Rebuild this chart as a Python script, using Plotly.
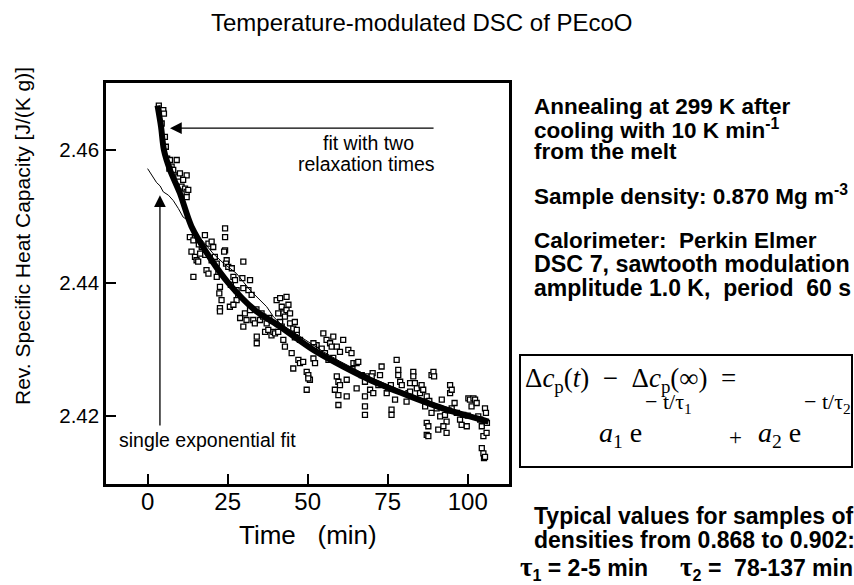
import plotly.graph_objects as go

# ---------------- data ----------------
time_min = [
    3.5, 4.9, 5.1, 4.4, 5.4, 5.7, 6.1, 7.0, 9.1, 7.5, 8.0, 6.8, 8.5, 9.6, 10.1, 12.2, 11.1, 10.6, 11.7, 12.2, 12.7, 12.2,
    13.2, 14.3, 13.7, 14.8, 15.3, 16.4, 16.9, 17.9, 19.0, 20.0, 20.5, 15.8, 14.3, 18.4, 19.0, 20.0, 21.0, 21.6, 22.1,
    21.6, 22.6, 22.4, 23.1, 22.6, 22.6, 24.2, 24.2, 24.2, 23.9, 24.7, 24.5, 25.2, 26.3, 26.8, 27.3, 27.8, 28.3, 27.8,
    25.7, 26.8, 29.9, 29.6, 32.0, 29.9, 31.5, 32.5, 30.4, 28.9, 29.9, 30.9, 32.0,
    33.0, 33.5, 34.1, 34.1, 35.1, 35.6, 36.1, 37.2, 36.7, 37.7, 38.7, 39.3, 39.8, 40.8, 40.3, 41.4, 41.9, 42.4, 42.9,
    43.4, 44.0, 43.4, 44.5, 40.8, 41.4, 41.9, 42.4, 42.9, 44.5, 45.5, 46.0, 46.6, 47.6, 46.6, 45.0, 45.5, 47.1, 47.6,
    48.6, 49.7, 50.2, 50.7, 49.7, 50.2, 51.8, 52.3, 52.8, 51.8, 53.3, 54.4, 54.9, 55.9, 55.4, 56.5,
    57.0, 57.5, 58.0, 59.1, 60.1, 61.1, 62.7, 63.7, 64.3, 65.3, 65.8, 59.1, 59.6, 60.1, 58.5, 59.6, 59.6, 62.2, 62.2,
    65.3, 66.9, 67.9, 68.4, 67.9, 67.9, 67.9, 69.5, 70.5, 70.3, 72.1, 73.1, 72.6, 74.7, 75.2, 76.2, 76.2, 77.3, 77.8,
    78.3, 78.3, 78.9, 79.4, 80.9, 81.5, 82.0,
    83.0, 83.0, 83.5, 84.1, 85.1, 85.6, 86.1, 86.7, 87.2, 88.7, 89.3, 89.5, 87.2, 87.7, 87.2, 87.7, 88.7, 90.3, 91.4,
    90.8, 91.9, 92.9, 93.4, 92.4, 93.4, 94.5, 94.5, 95.0, 95.0, 95.9, 96.6, 97.6, 98.1, 98.6, 99.7, 100.2, 100.7, 101.2,
    101.8, 102.3, 102.8, 103.3, 103.9, 104.4, 104.9, 105.4, 105.7, 105.9, 104.4, 104.9, 105.1, 105.4,
    16.0, 18.0, 26.0, 34.0, 38.0, 46.0, 52.0, 58.0, 64.0, 70.0, 76.0, 82.0, 88.0, 94.0, 100.0, 106.0,
]
cp_rev = [
    2.4667, 2.4660, 2.4655, 2.4640, 2.4620, 2.4605, 2.4587, 2.4585, 2.4585, 2.4575, 2.4570, 2.4572, 2.4562, 2.4560,
    2.4565, 2.4562, 2.4555, 2.4545, 2.4542, 2.4537, 2.4540, 2.4529,
    2.4469, 2.4464, 2.4447, 2.4439, 2.4434, 2.4444, 2.4454, 2.4472, 2.4459, 2.4462, 2.4454, 2.4432, 2.4409, 2.4419,
    2.4414, 2.4434, 2.4439, 2.4429, 2.4414, 2.4409, 2.4394, 2.4384, 2.4374, 2.4362, 2.4357, 2.4482, 2.4469, 2.4449,
    2.4447, 2.4434, 2.4429, 2.4424, 2.4422, 2.4409, 2.4404, 2.4389, 2.4379, 2.4374, 2.4364, 2.4367, 2.4432, 2.4407,
    2.4404, 2.4392, 2.4389, 2.4382, 2.4354, 2.4347, 2.4334, 2.4344, 2.4359,
    2.4344, 2.4339, 2.4319, 2.4309, 2.4344, 2.4354, 2.4349, 2.4339, 2.4326, 2.4329, 2.4321, 2.4326, 2.4324, 2.4326,
    2.4374, 2.4377, 2.4364, 2.4354, 2.4349, 2.4379, 2.4367, 2.4359, 2.4354, 2.4354, 2.4341, 2.4334, 2.4314, 2.4304,
    2.4339, 2.4331, 2.4341, 2.4324, 2.4314, 2.4329, 2.4294, 2.4271, 2.4284, 2.4279, 2.4281, 2.4266, 2.4261, 2.4254,
    2.4239, 2.4256, 2.4286, 2.4279, 2.4306, 2.4309, 2.4299, 2.4301, 2.4324, 2.4314, 2.4294, 2.4284,
    2.4309, 2.4304, 2.4319, 2.4304, 2.4296, 2.4314, 2.4299, 2.4294, 2.4279, 2.4279, 2.4281, 2.4259, 2.4251, 2.4246,
    2.4239, 2.4231, 2.4216, 2.4229, 2.4254, 2.4241, 2.4261, 2.4251, 2.4259, 2.4229, 2.4214, 2.4201, 2.4239, 2.4234,
    2.4264, 2.4246, 2.4274, 2.4261, 2.4234, 2.4241, 2.4209, 2.4201, 2.4224, 2.4284, 2.4269, 2.4261, 2.4251, 2.4246,
    2.4221, 2.4234, 2.4249,
    2.4266, 2.4259, 2.4249, 2.4241, 2.4234, 2.4246, 2.4239, 2.4214, 2.4229, 2.4261, 2.4266, 2.4259, 2.4189, 2.4184,
    2.4171, 2.4169, 2.4204, 2.4211, 2.4199, 2.4179, 2.4224, 2.4201, 2.4191, 2.4184, 2.4174, 2.4246, 2.4234, 2.4239,
    2.4211, 2.4219, 2.4204, 2.4194, 2.4186, 2.4201, 2.4184, 2.4226, 2.4224, 2.4214, 2.4226, 2.4224, 2.4219, 2.4199,
    2.4194, 2.4184, 2.4169, 2.4211, 2.4204, 2.4174, 2.4151, 2.4143, 2.4136, 2.4138,
    2.4458, 2.4442, 2.4397, 2.4360, 2.4347, 2.4318, 2.4303, 2.4287, 2.4270, 2.4259, 2.4246, 2.4236, 2.4222, 2.4208,
    2.4200, 2.4189,
]

fit2_t = [3.1, 4.2, 5.1, 7.0, 10.1, 13.7, 20.0, 25.2, 33.5, 41.4, 51.8, 61.1, 71.6, 82.0, 93.4, 106.5]
fit2_cp = [2.4667, 2.4635, 2.4600, 2.4570, 2.4535, 2.4485, 2.4434, 2.4400, 2.4359, 2.4334, 2.4299, 2.4274,
           2.4249, 2.4229, 2.4209, 2.4191]

fit1_t = [0.0, 1.25, 2.8, 3.9, 4.9, 6.5, 8.0, 9.6, 11.1, 12.7, 14.8, 17.4, 20.5, 23.6, 27.8, 32.0, 35.1, 37.2,
          39.3, 41.4, 44.5, 47.6, 50.7, 55.0, 60.0, 70.0, 80.0, 90.0, 100.0, 106.5]
fit1_cp = [2.4572, 2.4562, 2.4551, 2.4546, 2.4537, 2.4532, 2.4524, 2.4512, 2.4499, 2.4494, 2.4477, 2.4462,
           2.4444, 2.4430, 2.4414, 2.4389, 2.4374, 2.4364, 2.4349, 2.4339, 2.4329, 2.4319, 2.4309, 2.4296,
           2.4282, 2.4257, 2.4236, 2.4218, 2.4202, 2.4193]

x_ticks = [0, 25, 50, 75, 100]
y_ticks = [2.42, 2.44, 2.46]
x_range = [-13.0, 112.9]
y_range = [2.4097, 2.4701]

# ---------------- figure ----------------
W, H = 854, 585
ML, MR, MT, MB = 106, 345, 83, 101
PW, PH = W - ML - MR, H - MT - MB


def P(px, py):
    return (px - ML) / PW, (H - MB - py) / PH


SANS = "Liberation Sans, Arial, sans-serif"
SERIF = "Liberation Serif, Times New Roman, serif"

fig = go.Figure()
fig.add_trace(go.Scatter(
    x=time_min, y=cp_rev, mode="markers",
    marker=dict(symbol="square", size=5, color="white", line=dict(color="black", width=1.3)),
    showlegend=False, hoverinfo="skip"))
fig.add_trace(go.Scatter(
    x=fit2_t, y=fit2_cp, mode="lines", line=dict(color="black", width=6, shape="spline", smoothing=0.8),
    showlegend=False, hoverinfo="skip"))
fig.add_trace(go.Scatter(
    x=fit1_t, y=fit1_cp, mode="lines", line=dict(color="black", width=1),
    showlegend=False, hoverinfo="skip"))

axis_common = dict(showgrid=False, zeroline=False, showline=True, linecolor="black", linewidth=2.5,
                   mirror=True, ticks="inside", ticklen=10, tickwidth=1.5, tickcolor="black")
fig.update_xaxes(range=x_range, tickvals=x_ticks, ticktext=[str(v) for v in x_ticks],
                 tickfont=dict(family=SANS, size=24, color="black"), ticklabelstandoff=-6, **axis_common)
fig.update_yaxes(range=y_range, tickvals=y_ticks, ticktext=["%.2f" % v for v in y_ticks],
                 tickfont=dict(family=SANS, size=20.5, color="black"), **axis_common)

ann = []


def text(px, py, s, size, xanchor="left", bold=False, family=SANS, angle=0):
    x, y = P(px, py)
    if bold:
        s = "<b>" + s + "</b>"
    ann.append(dict(x=x, y=y, xref="paper", yref="paper", text=s, showarrow=False,
                    xanchor=xanchor, yanchor="middle", textangle=angle,
                    font=dict(family=family, size=size, color="black")))


NB = "\u00a0"

# title and axis titles
text(422, 22, "Temperature-modulated DSC of PEcoO", 24, xanchor="center")
text(22, 236, "Rev. Specific Heat Capacity [J/(K g)]", 21, xanchor="center", angle=-90)
text(308, 535, "Time" + NB * 3 + "(min)", 26, xanchor="center")

# in-plot labels
text(368, 143, "fit with two", 19.5, xanchor="center")
text(366, 164, "relaxation times", 19.5, xanchor="center")
text(117, 440, "single exponential fit", 19.5, xanchor="left")

# arrows (data coordinates)
ann.append(dict(x=7.0, y=2.4633, ax=89.8, ay=2.4633, xref="x", yref="y", axref="x", ayref="y",
                text="", showarrow=True, arrowhead=2, arrowsize=1.8, arrowwidth=1.3,
                arrowcolor="black", standoff=0))
ann.append(dict(x=3.85, y=2.4532, ax=3.85, ay=2.4183, xref="x", yref="y", axref="x", ayref="y",
                text="", showarrow=True, arrowhead=2, arrowsize=1.8, arrowwidth=1.3,
                arrowcolor="black", standoff=0))

# right-hand notes
R = 532
FS = 22.5
text(R, 106, "Annealing at 299 K after", FS, bold=True)
text(R, 129, "cooling with 10 K min<sup>-1</sup>", FS, bold=True)
text(R, 151, "from the melt", FS, bold=True)
text(R, 195, "Sample density: 0.870 Mg m<sup>-3</sup>", FS, bold=True)
text(R, 240, "Calorimeter:" + NB * 2 + "Perkin Elmer", FS, bold=True)
text(R, 264, "DSC 7, sawtooth modulation", 23.3, bold=True)
text(R, 288, "amplitude 1.0 K," + NB * 2 + "period" + NB * 2 + "60 s", 23, bold=True)

# equation box
text(523, 380, "\u0394<i>c</i><sub>p</sub>(<i>t</i>)" + NB * 2 + "\u2212" + NB * 2
     + "\u0394<i>c</i><sub>p</sub>(\u221e)" + NB * 2 + "=", 27, family=SERIF)
text(597, 434, "<i>a</i><sub>1</sub>" + NB + "e", 28, family=SERIF)
text(643, 403, "\u2212" + NB + "t/\u03c4<sub>1</sub>", 22, family=SERIF)
text(727, 437, "+", 23, family=SERIF)
text(756, 434, "<i>a</i><sub>2</sub>" + NB + "e", 28, family=SERIF)
text(802, 403, "\u2212" + NB + "t/\u03c4<sub>2</sub>", 22, family=SERIF)

text(R, 516, "Typical values for samples of", 23, bold=True)
text(R, 540, "densities from 0.868 to 0.902:", 23, bold=True)
tau = '<span style="font-family:Liberation Serif;font-size:27px">\u03c4</span>'
text(518, 568, tau + "<sub>1</sub>" + NB + "=" + NB + "2-5 min" + NB * 5 + tau + "<sub>2</sub>" + NB + "="
     + NB * 2 + "78-137 min", 23, bold=True)

bx0, by0 = P(520, 467)
bx1, by1 = P(852, 355)
fig.update_layout(
    width=W, height=H, margin=dict(l=ML, r=MR, t=MT, b=MB),
    paper_bgcolor="white", plot_bgcolor="white",
    annotations=ann,
    shapes=[dict(type="rect", xref="paper", yref="paper", x0=bx0, y0=by0, x1=bx1, y1=by1,
                 line=dict(color="black", width=2))],
)

fig.write_html("out.html")
